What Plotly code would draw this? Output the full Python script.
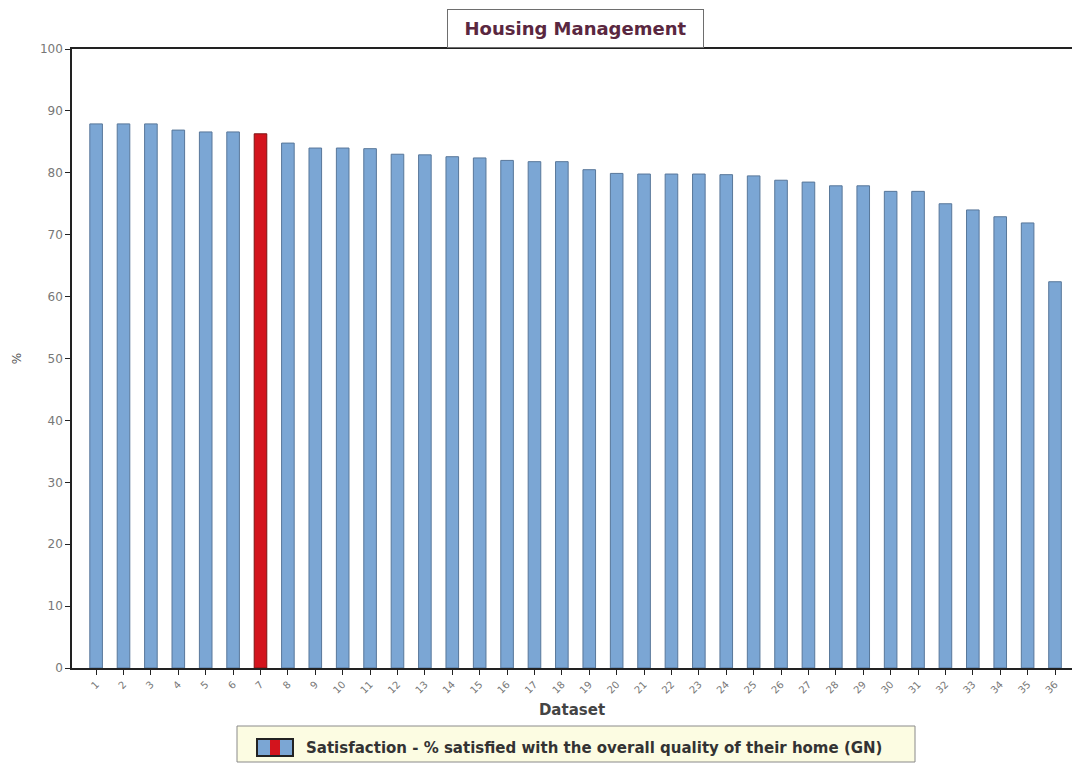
import plotly.graph_objects as go

# Dataset identifiers and satisfaction scores (%)
datasets = [str(i) for i in range(1, 37)]
satisfaction = [87.9, 87.9, 87.9, 86.9, 86.6, 86.6, 86.3, 84.8, 84.0, 84.0,
                83.9, 83.0, 82.9, 82.6, 82.4, 82.0, 81.8, 81.8, 80.5, 79.9,
                79.8, 79.8, 79.8, 79.7, 79.5, 78.8, 78.5, 77.9, 77.9, 77.0,
                77.0, 75.0, 74.0, 72.9, 71.9, 62.4]
highlight = "7"

y_ticks = [0, 10, 20, 30, 40, 50, 60, 70, 80, 90, 100]

BLUE = "#7ba6d4"
BLUE_EDGE = "#58779a"
RED = "#d3141d"
RED_EDGE = "#7d1414"

fill = [RED if d == highlight else BLUE for d in datasets]
edge = [RED_EDGE if d == highlight else BLUE_EDGE for d in datasets]

W, H = 1072, 763
ML, MR, MT, MB = 72, 0, 49, 95
plot_h = H - MT - MB


def py(pix):
    """Convert a pixel row to paper y."""
    return (H - MB - pix) / plot_h


def px(pix):
    """Convert a pixel column to paper x."""
    return (pix - ML) / (W - ML - MR)


fig = go.Figure()
fig.add_trace(go.Bar(
    x=datasets,
    y=satisfaction,
    width=0.46,
    marker=dict(color=fill, line=dict(color=edge, width=1)),
    name="Satisfaction - % satisfied with the overall quality of their home (GN)",
    showlegend=False,
))

shapes = []
annotations = []

# Title in a bordered box sitting on the top frame line
annotations.append(dict(
    text="<b>Housing Management</b>",
    xref="paper", yref="paper", x=px(575.5), y=py(48), xanchor="center", yanchor="bottom",
    showarrow=False, font=dict(family="DejaVu Sans", size=18, color="#5a2740"),
    width=247, height=29, borderpad=4,
    bordercolor="#6e6e6e", borderwidth=1, bgcolor="#ffffff",
))

# Legend box beneath the axis
shapes.append(dict(type="rect", xref="paper", yref="paper",
                   x0=px(237), x1=px(915), y0=py(726), y1=py(762),
                   fillcolor="#fcfce2", line=dict(color="#8a8a8a", width=1)))
# Legend swatch: blue / red / blue stripes framed in black
shapes.append(dict(type="rect", xref="paper", yref="paper",
                   x0=px(257), x1=px(293), y0=py(739), y1=py(756),
                   fillcolor=BLUE, line=dict(width=0)))
shapes.append(dict(type="rect", xref="paper", yref="paper",
                   x0=px(270), x1=px(280), y0=py(739), y1=py(756),
                   fillcolor=RED, line=dict(width=0)))
shapes.append(dict(type="rect", xref="paper", yref="paper",
                   x0=px(257), x1=px(293), y0=py(739), y1=py(756),
                   fillcolor="rgba(0,0,0,0)", line=dict(color="#222222", width=2)))
annotations.append(dict(
    text="<b>Satisfaction - % satisfied with the overall quality of their home (GN)</b>",
    xref="paper", yref="paper", x=px(304), y=py(747.5), xanchor="left", yanchor="middle",
    showarrow=False, font=dict(family="DejaVu Sans", size=15, color="#333333"),
))

fig.update_layout(
    width=W, height=H,
    margin=dict(l=ML, r=MR, t=MT, b=MB),
    paper_bgcolor="#ffffff",
    plot_bgcolor="#ffffff",
    shapes=shapes,
    annotations=annotations,
    font=dict(family="DejaVu Sans"),
)

fig.update_xaxes(
    type="category",
    range=[-0.88, 35.62],
    showgrid=False,
    showline=True, linecolor="#222222", linewidth=1.5, mirror=True,
    ticks="outside", ticklen=5, tickcolor="#222222",
    tickangle=-45,
    tickfont=dict(family="DejaVu Sans", size=10, color="#777777"),
    title=dict(text="<b>Dataset</b>", standoff=10,
               font=dict(family="DejaVu Sans", size=15, color="#444444")),
)

fig.update_yaxes(
    range=[0, 100],
    tickvals=y_ticks,
    showgrid=False, zeroline=False,
    showline=True, linecolor="#222222", linewidth=1.5,
    ticks="outside", ticklen=5, tickcolor="#222222",
    tickfont=dict(family="DejaVu Sans", size=12, color="#777777"),
    title=dict(text="%", standoff=16,
               font=dict(family="DejaVu Sans", size=12, color="#555555")),
)

fig.write_html("out.html")
